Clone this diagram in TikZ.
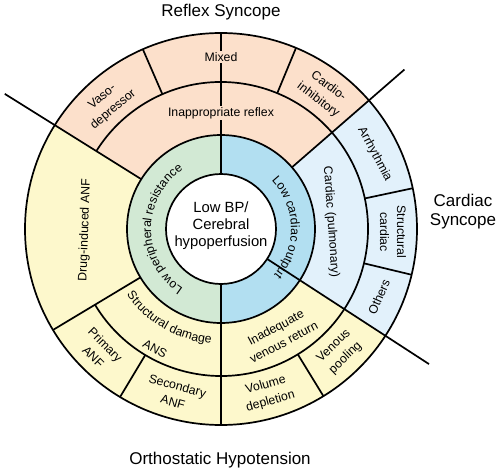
\documentclass[tikz,border=0pt]{standalone}
\usepackage{fontspec}
\setmainfont{Liberation Sans}
\usetikzlibrary{decorations.text}
\definecolor{peach}{HTML}{FCE0CB}
\definecolor{ylw}{HTML}{FDF8CC}
\definecolor{lblue}{HTML}{E2F1FB}
\definecolor{grn}{HTML}{D2E9D4}
\definecolor{cblue}{HTML}{B2DFF1}
\newcommand\lblfont{\fontsize{12.3}{17}\selectfont}
\newcommand\annsector[5]{\fill[#1] (#2:#4) arc[start angle=#2, end angle=#3, radius=#4] -- (#3:#5) arc[start angle=#3, end angle=#2, radius=#5] -- cycle;}
\tikzset{
  ring/.style={line width=1.7pt, black},
  lbl/.style={font=\lblfont, align=center, inner sep=1pt},
  ctr/.style={font=\fontsize{14.8}{17}\selectfont, align=center, inner sep=0pt},
  ttl/.style={font=\fontsize{17}{19}\selectfont, align=center, inner sep=0pt},
}
\begin{document}
\begin{tikzpicture}[x=1pt,y=1pt]
\useasboundingbox (-221,-245) rectangle (279,229);
% fills
\annsector{grn}{90}{270}{55pt}{94pt}
\annsector{cblue}{-90}{90}{55pt}{94pt}
\annsector{peach}{41}{148}{94pt}{196pt}
\annsector{ylw}{148}{327}{94pt}{196pt}
\annsector{lblue}{-33}{41}{94pt}{196pt}
\fill[white] (0,0) circle[radius=55pt];
% circles
\draw[ring] (0,0) circle[radius=55pt];
\draw[ring] (0,0) circle[radius=94pt];
\draw[ring] (0,0) circle[radius=196pt];
\draw[ring] (-149:147pt) arc[start angle=-149, end angle=148, radius=147pt];
% radial lines
\foreach \a/\ri/\ro in {90/55pt/196pt, 270/55pt/196pt, 148/94pt/255pt, 41/94pt/243pt, -33/55pt/248pt, 211/94pt/196pt, 113.5/147pt/196pt, 67.5/147pt/196pt, 12/147pt/196pt, -13.5/147pt/196pt, -58.5/147pt/196pt, 239/147pt/196pt}
  \draw[ring] (\a:\ri) -- (\a:\ro);
% centre
\node[ctr] (core) at (0,3) {Low BP/\\Cerebral\\hypoperfusion};
% curved labels
\path[decorate, decoration={text along path, text align=center, text={|\lblfont|Low peripheral resistance}}] (250:70pt) arc[start angle=250, end angle=110, radius=70pt];
\path[decorate, decoration={text along path, text align=center, text={|\lblfont|Low cardiac output}}] (48:70pt) arc[start angle=48, end angle=-45, radius=70pt];
\path[decorate, decoration={text along path, text align=center, text={|\lblfont|Structural damage}}] (200:115pt) arc[start angle=200, end angle=280, radius=115pt];
% ring 2 labels
\node[lbl, fill=peach] (inrefl) at (0,116) {Inappropriate reflex};
\node[lbl, rotate=-86] (cpulm) at (110,7) {Cardiac (pulmonary)};
\node[lbl, rotate=88] (drug) at (-136,-1) {Drug-induced ANF};
\node[lbl, rotate=28] (inadq) at (-61:121pt) {Inadequate\\venous return};
\node[lbl, rotate=-29] (ans) at (-66,-120) {ANS};
% ring 3 labels
\node[lbl, fill=peach] (mixed) at (0,172) {Mixed};
\node[lbl, rotate=40] (vaso) at (132:169pt) {Vaso-\\depressor};
\node[lbl, rotate=-37] (cardio) at (53:170pt) {Cardio-\\inhibitory};
\node[lbl, rotate=-62] (arr) at (26:171pt) {Arrhythmia};
\node[lbl, rotate=-90] (strc) at (-1:172pt) {Structural\\cardiac};
\node[lbl, rotate=66.7] (oth) at (-23.3:172pt) {Others};
\node[lbl, rotate=44] (vpool) at (314:171pt) {Venous\\pooling};
\node[lbl, rotate=16] (vdep) at (286:171pt) {Volume\\depletion};
\node[lbl, rotate=-15.5] (sanf) at (254.5:171pt) {Secondary\\ANF};
\node[lbl, rotate=-45] (panf) at (225:172pt) {Primary\\ANF};
% titles
\node[ttl, anchor=base] (reflex) at (0,212.5) {Reflex Syncope};
\node[ttl] (cardsync) at (242,17) {Cardiac\\Syncope};
\node[ttl, anchor=base] (ortho) at (-1,-235.5) {Orthostatic Hypotension};
\end{tikzpicture}
\end{document}
